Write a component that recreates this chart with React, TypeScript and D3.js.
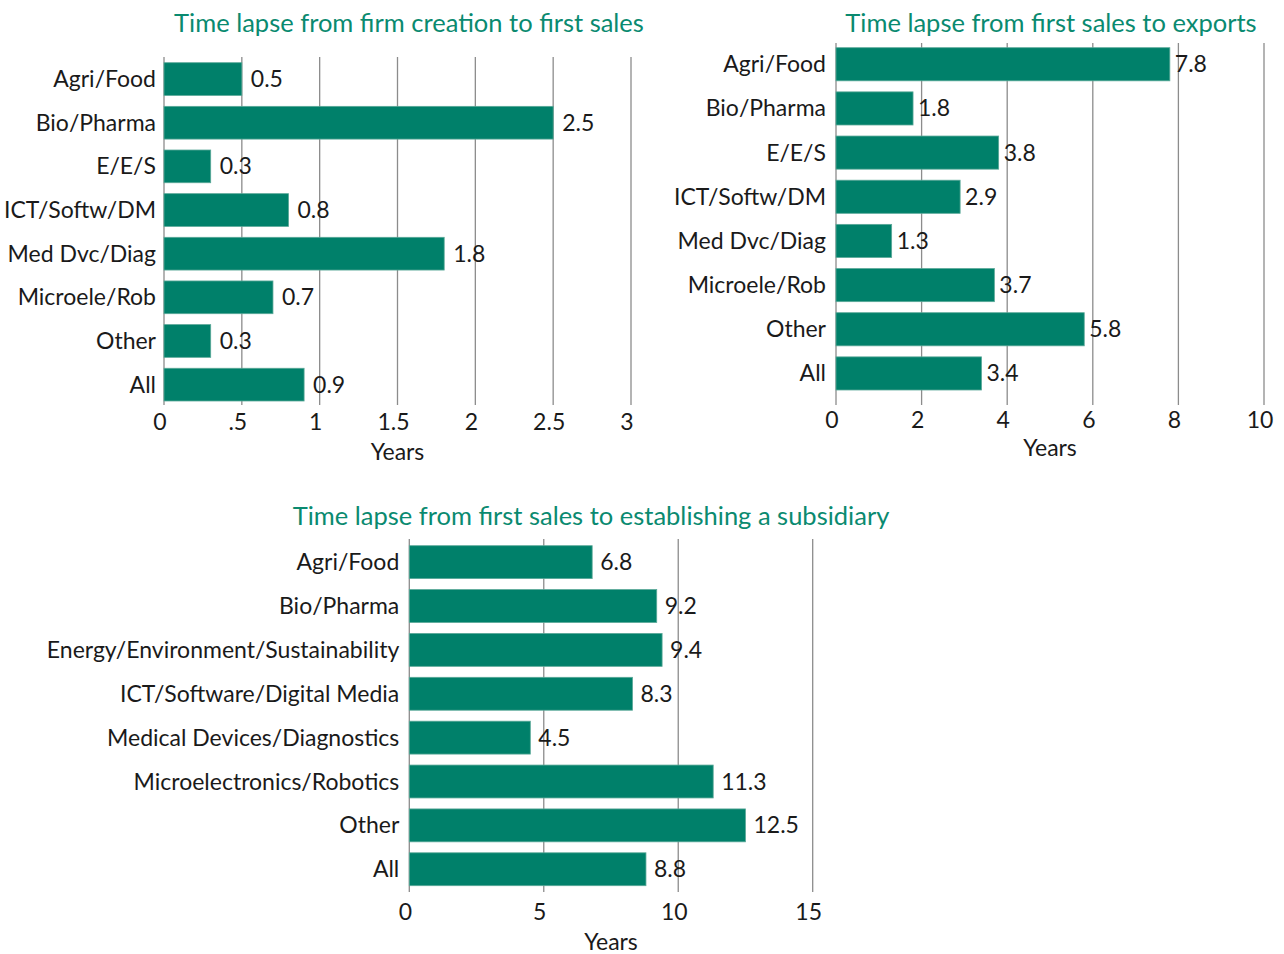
import React from "react";
import * as d3 from "d3";

const shortCategories = ["Agri/Food", "Bio/Pharma", "E/E/S", "ICT/Softw/DM", "Med Dvc/Diag", "Microele/Rob", "Other", "All"];
const longCategories = [
  "Agri/Food",
  "Bio/Pharma",
  "Energy/Environment/Sustainability",
  "ICT/Software/Digital Media",
  "Medical Devices/Diagnostics",
  "Microelectronics/Robotics",
  "Other",
  "All",
];
const creationToSales = [0.5, 2.5, 0.3, 0.8, 1.8, 0.7, 0.3, 0.9];
const salesToExports = [7.8, 1.8, 3.8, 2.9, 1.3, 3.7, 5.8, 3.4];
const salesToSubsidiary = [6.8, 9.2, 9.4, 8.3, 4.5, 11.3, 12.5, 8.8];

const ticks1 = [0, 0.5, 1, 1.5, 2, 2.5, 3];
const tickLabels1 = ["0", ".5", "1", "1.5", "2", "2.5", "3"];
const ticks2 = [0, 2, 4, 6, 8, 10];
const tickLabels2 = ["0", "2", "4", "6", "8", "10"];
const ticks3 = [0, 5, 10, 15];
const tickLabels3 = ["0", "5", "10", "15"];

const title1 = "Time lapse from firm creation to first sales";
const title2 = "Time lapse from first sales to exports";
const title3 = "Time lapse from first sales to establishing a subsidiary";
const axisTitle = "Years";

const FONT = "Lato, 'Open Sans', sans-serif";
const BAR = "#00806a";
const BAR_STROKE = "#5aa898";
const GRID = "#8c8c8c";
const TEXT = "#1a1a1a";
const TITLE = "#0a8a70";

type PanelProps = {
  title: string;
  titleX: number;
  titleY: number;
  cats: string[];
  values: number[];
  ticks: number[];
  tickLabels: string[];
  x0: number;
  x1: number;
  barTop: number;
  barBottom: number;
  gridTop: number;
  gridBottom: number;
  tickY: number;
  axisY: number;
  labelGap: number;
  valueGap: number;
};

function Panel(p: PanelProps) {
  const domainMax = p.ticks[p.ticks.length - 1];
  const x = d3.scaleLinear().domain([0, domainMax]).range([p.x0, p.x1]);
  const n = p.cats.length;
  const step = (p.barBottom - p.barTop) / (n - 0.25);
  const y = d3
    .scaleBand<string>()
    .domain(p.cats)
    .range([p.barTop - step * 0.125, p.barTop - step * 0.125 + step * n])
    .paddingInner(0.25)
    .paddingOuter(0.125);
  const bw = y.bandwidth();
  return (
    <g>
      <text x={p.titleX} y={p.titleY} textAnchor="middle" fill={TITLE} fontSize={25.5} fontFamily={FONT}>
        {p.title}
      </text>
      {p.ticks.map((t, i) => (
        <line key={"g" + i} x1={x(t)} x2={x(t)} y1={p.gridTop} y2={p.gridBottom} stroke={GRID} strokeWidth={1.3} />
      ))}
      {p.cats.map((c, i) => (
        <g key={c}>
          <rect
            x={x(0)}
            y={y(c)!}
            width={x(p.values[i]) - x(0)}
            height={bw}
            fill={BAR}
            stroke={BAR_STROKE}
            strokeWidth={0.8}
          />
          <text
            x={x(0) - p.labelGap}
            y={y(c)! + bw / 2 - 1}
            textAnchor="end"
            dominantBaseline="central"
            fill={TEXT}
            fontSize={23}
            fontFamily={FONT}
          >
            {c}
          </text>
          <text
            x={x(p.values[i]) + p.valueGap}
            y={y(c)! + bw / 2 - 1}
            dominantBaseline="central"
            fill={TEXT}
            fontSize={23}
            fontFamily={FONT}
          >
            {p.values[i].toFixed(1)}
          </text>
        </g>
      ))}
      {p.ticks.map((t, i) => (
        <text
          key={"t" + i}
          x={x(t) - 4}
          y={p.tickY}
          textAnchor="middle"
          dominantBaseline="central"
          fill={TEXT}
          fontSize={23}
          fontFamily={FONT}
        >
          {p.tickLabels[i]}
        </text>
      ))}
      <text
        x={(p.x0 + p.x1) / 2}
        y={p.axisY}
        textAnchor="middle"
        dominantBaseline="central"
        fill={TEXT}
        fontSize={23}
        fontFamily={FONT}
      >
        {axisTitle}
      </text>
    </g>
  );
}

export default function App() {
  return (
    <svg
      width={1284}
      height={954}
      style={{ position: "absolute", left: 0, top: 0, background: "#fff" }}
    >
      <Panel
        title={title1}
        titleX={409}
        titleY={32}
        cats={shortCategories}
        values={creationToSales}
        ticks={ticks1}
        tickLabels={tickLabels1}
        x0={164}
        x1={631}
        barTop={62.7}
        barBottom={401}
        gridTop={57}
        gridBottom={405}
        tickY={421}
        axisY={451}
        labelGap={8}
        valueGap={9}
      />
      <Panel
        title={title2}
        titleX={1051}
        titleY={32}
        cats={shortCategories}
        values={salesToExports}
        ticks={ticks2}
        tickLabels={tickLabels2}
        x0={836}
        x1={1264}
        barTop={47.7}
        barBottom={390}
        gridTop={43}
        gridBottom={405}
        tickY={419}
        axisY={447}
        labelGap={10}
        valueGap={5}
      />
      <Panel
        title={title3}
        titleX={591}
        titleY={525}
        cats={longCategories}
        values={salesToSubsidiary}
        ticks={ticks3}
        tickLabels={tickLabels3}
        x0={409.3}
        x1={812.7}
        barTop={545.7}
        barBottom={885.7}
        gridTop={539}
        gridBottom={892}
        tickY={910.5}
        axisY={940.5}
        labelGap={10}
        valueGap={8}
      />
    </svg>
  );
}
